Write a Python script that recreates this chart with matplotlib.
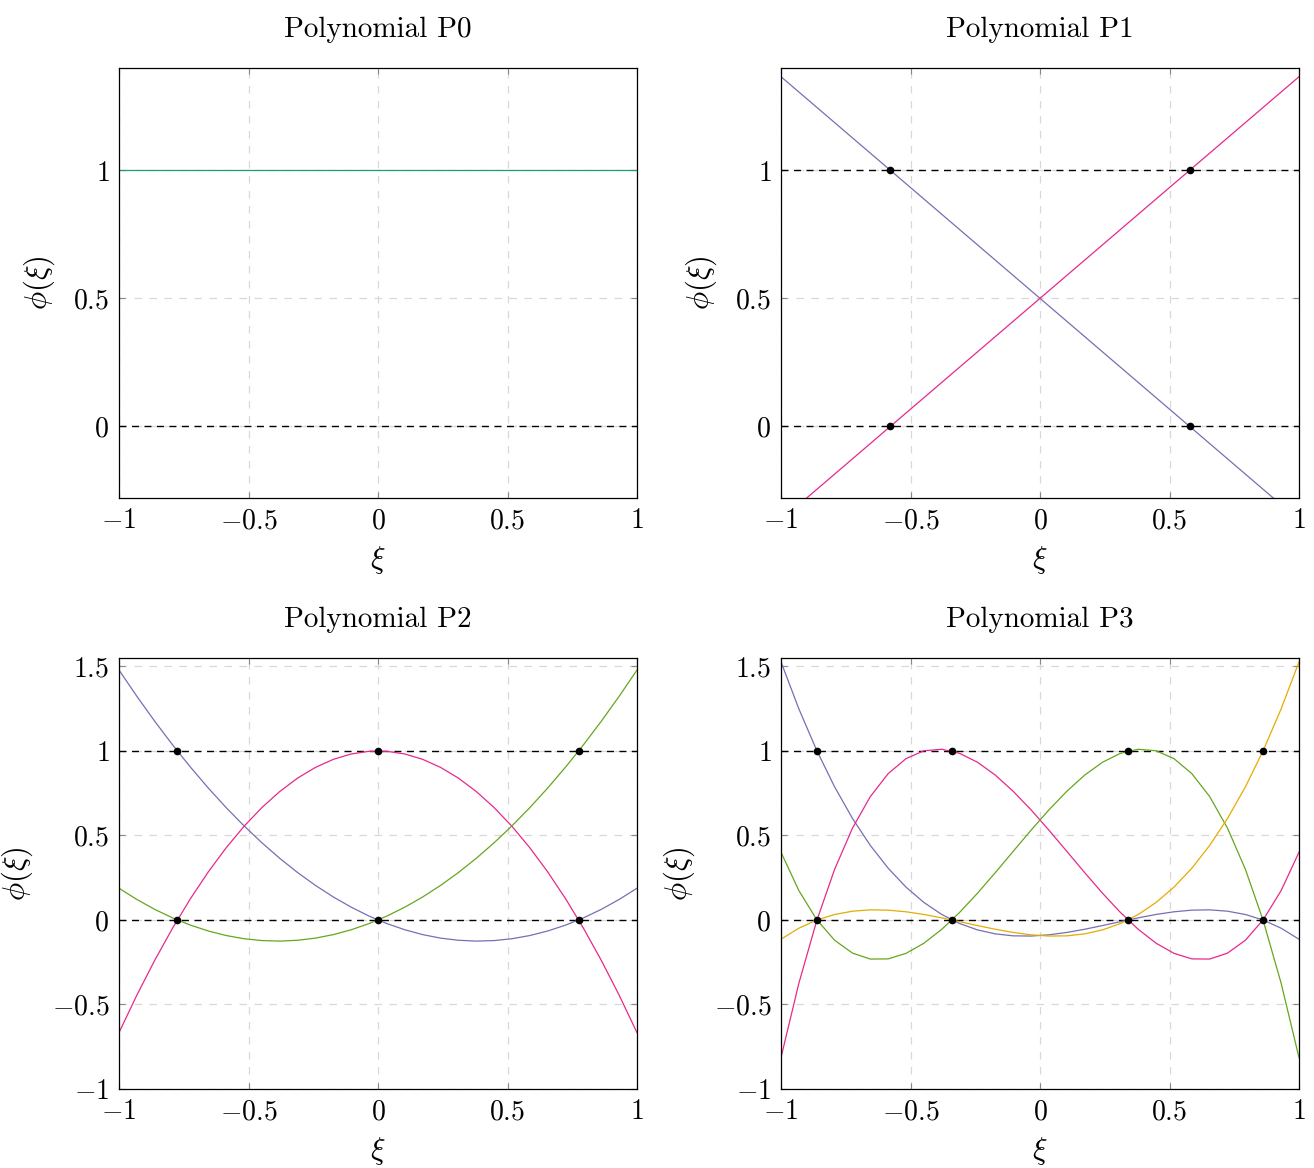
import numpy as np
import matplotlib
matplotlib.use("Agg")
import matplotlib.pyplot as plt
from matplotlib.ticker import FuncFormatter

plt.rcParams["font.family"] = "serif"
plt.rcParams["font.serif"] = ["cmr10", "DejaVu Serif"]
plt.rcParams["mathtext.fontset"] = "cm"
plt.rcParams["axes.formatter.use_mathtext"] = True

# ---------------- DATA ----------------
# Gauss points (nodes) of each element order; P0 has no marked nodes
NODES_P1 = [-0.5774, 0.5774]
NODES_P2 = [-0.7746, 0.0, 0.7746]
NODES_P3 = [-0.8611, -0.3400, 0.3400, 0.8611]
PANEL_NODES = [None, NODES_P1, NODES_P2, NODES_P3]
TITLES = ["Polynomial P0", "Polynomial P1", "Polynomial P2", "Polynomial P3"]
YTICKS = [[0, 0.5, 1], [0, 0.5, 1],
          [-1, -0.5, 0, 0.5, 1, 1.5], [-1, -0.5, 0, 0.5, 1, 1.5]]
YLIMS = [(-0.28, 1.4), (-0.28, 1.4), (-1.0, 1.55), (-1.0, 1.55)]
XTICKS = [-1, -0.5, 0, 0.5, 1]
N_SAMPLES = 30

COLORS = ["#7570b3", "#e7298a", "#66a61e", "#e6ab02"]
P0_COLOR = "#1b9e77"

# axes boxes in pixels (left, top, right, bottom)
W, H = 1314, 1168
BOXES = [(119, 68, 637, 498), (781, 68, 1299, 498),
         (119, 658, 637, 1089), (781, 658, 1299, 1089)]


def lagrange_basis(nodes, i, x):
    y = np.ones_like(x)
    for j, xj in enumerate(nodes):
        if j != i:
            y *= (x - xj) / (nodes[i] - xj)
    return y


def fmt(v, pos):
    if abs(v - round(v)) < 1e-9:
        s = f"{int(round(v))}"
    else:
        s = f"{v:g}"
    return "$" + s + "$"


fig = plt.figure(figsize=(W / 100, H / 100), dpi=100)
xs = np.linspace(-1, 1, N_SAMPLES)

for k in range(4):
    l, t, r, b = BOXES[k]
    ax = fig.add_axes([l / W, 1 - b / H, (r - l) / W, (b - t) / H])
    ax.set_xlim(-1, 1)
    ax.set_ylim(*YLIMS[k])
    ax.set_xticks(XTICKS)
    ax.set_yticks(YTICKS[k])
    ax.xaxis.set_major_formatter(FuncFormatter(fmt))
    ax.yaxis.set_major_formatter(FuncFormatter(fmt))
    ax.grid(True, color="#d8d8d8", linestyle=(0, (6, 6)), linewidth=0.9)
    ax.set_axisbelow(True)
    ax.tick_params(direction="in", top=True, right=True, length=4,
                   color="#888888", labelsize=20, pad=7)
    for sp in ax.spines.values():
        sp.set_linewidth(0.9)

    nodes = PANEL_NODES[k]
    ax.axhline(0, color="black", linestyle=(0, (5, 4)), linewidth=1.0)
    if nodes is None:
        ax.plot(xs, np.ones_like(xs), color=P0_COLOR, linewidth=0.9)
    else:
        ax.axhline(1, color="black", linestyle=(0, (5, 4)), linewidth=1.0)
        for i in range(len(nodes)):
            ax.plot(xs, lagrange_basis(nodes, i, xs), color=COLORS[i],
                    linewidth=0.9)
        ax.plot(nodes, np.zeros(len(nodes)), "o", color="black",
                markersize=4.5, zorder=5, clip_on=False)
        ax.plot(nodes, np.ones(len(nodes)), "o", color="black",
                markersize=4.5, zorder=5, clip_on=False)

    ax.set_title(TITLES[k], fontsize=21, pad=22)
    ax.set_xlabel(r"$\xi$", fontsize=22, labelpad=7)
    ax.set_ylabel(r"$\phi(\xi)$", fontsize=22, labelpad=12)

fig.savefig("out.png", dpi=100)
